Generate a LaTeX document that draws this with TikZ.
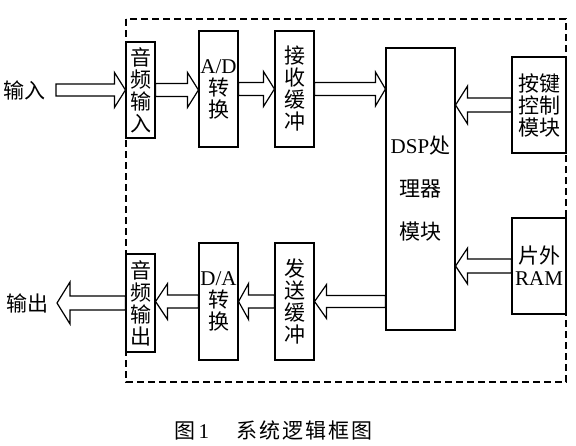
\documentclass[tikz,border=0pt]{standalone}
\usepackage{fontspec}
\setmainfont{Liberation Serif}
\newfontfamily\cjk{Noto Sans CJK SC}
\usetikzlibrary{calc}
\tikzset{
 blk/.style={draw, line width=1.1pt, inner sep=0pt, align=center, font=\cjk\fontsize{21}{22}\selectfont},
 hollow/.style={draw, line width=1.2pt, fill=white, line join=miter},
 lbl/.style={inner sep=0pt, font=\cjk\fontsize{21}{22}\selectfont},
 frame/.style={draw, line width=1.2pt, dash pattern=on 7pt off 4pt}
}
\newcommand\barrow[5]{%
 \path ($(#2)!#5!(#1)$) coordinate (hb);
 \draw[hollow] ($(#1)+(0pt,#3)$) -- ($(hb)+(0pt,#3)$) -- ($(hb)+(0pt,#4)$) -- (#2) -- ($(hb)+(0pt,-#4)$) -- ($(hb)+(0pt,-#3)$) -- ($(#1)+(0pt,-#3)$) -- cycle;}
\begin{document}
\begin{tikzpicture}[x=1pt,y=-1pt]
\useasboundingbox (0,0) rectangle (576,445);
\draw[frame] (126,19) rectangle (566,382);
\node[blk, minimum width=29pt, minimum height=96pt] (ain) at (140.5,90) {音\\频\\输\\入};
\node[blk, minimum width=39pt, minimum height=116pt] (ad) at (218.5,89) {{\rmfamily\fontsize{21}{22}\selectfont A/D}\\转\\换};
\node[blk, minimum width=39pt, minimum height=116pt] (recv) at (294.5,89) {接\\收\\缓\\冲};
\node[blk, minimum width=69pt, minimum height=282pt, font=\cjk\fontsize{21}{43}\selectfont] (dsp) at (420.5,189) {{\rmfamily DSP}处\\理器\\模块};
\node[blk, minimum width=54pt, minimum height=96pt] (key) at (539,105) {按键\\控制\\模块};
\node[blk, minimum width=54pt, minimum height=96pt] (ram) at (539,266) {片外\\{\rmfamily RAM}};
\node[blk, minimum width=29pt, minimum height=98pt] (aout) at (140.5,303) {音\\频\\输\\出};
\node[blk, minimum width=39pt, minimum height=117pt] (da) at (218.5,301.5) {{\rmfamily D/A}\\转\\换};
\node[blk, minimum width=39pt, minimum height=117pt] (send) at (294.5,301.5) {发\\送\\缓\\冲};
\node[lbl] (in) at (25,90) {输入};
\node[lbl] (out) at (27,303) {输出};
\node[lbl, anchor=west] (cap) at (174,430) {图\,{\rmfamily 1}\hspace{1.3em}系\hspace{2pt}统\hspace{2pt}逻\hspace{2pt}辑\hspace{2pt}框\hspace{2pt}图};
\coordinate (intail) at (56,90);
\coordinate (outtip) at (57,303);
\barrow{intail}{ain.west}{6pt}{17.5pt}{11pt}
\barrow{ain.east}{ad.west |- ain.east}{6.5pt}{17.5pt}{11pt}
\barrow{ad.east}{recv.west |- ad.east}{6.5pt}{17.5pt}{11pt}
\barrow{recv.east}{dsp.west |- recv.east}{6.5pt}{17pt}{10pt}
\barrow{key.west}{dsp.east |- key.west}{7pt}{19pt}{12pt}
\barrow{ram.west}{dsp.east |- ram.west}{7pt}{18pt}{12pt}
\barrow{dsp.west |- send.east}{send.east}{6pt}{17pt}{12pt}
\barrow{send.west}{da.east}{6.5pt}{18pt}{10pt}
\barrow{da.west}{aout.east |- da.west}{6.5pt}{18pt}{12pt}
\barrow{aout.west}{outtip}{7pt}{21pt}{13pt}
\end{tikzpicture}
\end{document}
